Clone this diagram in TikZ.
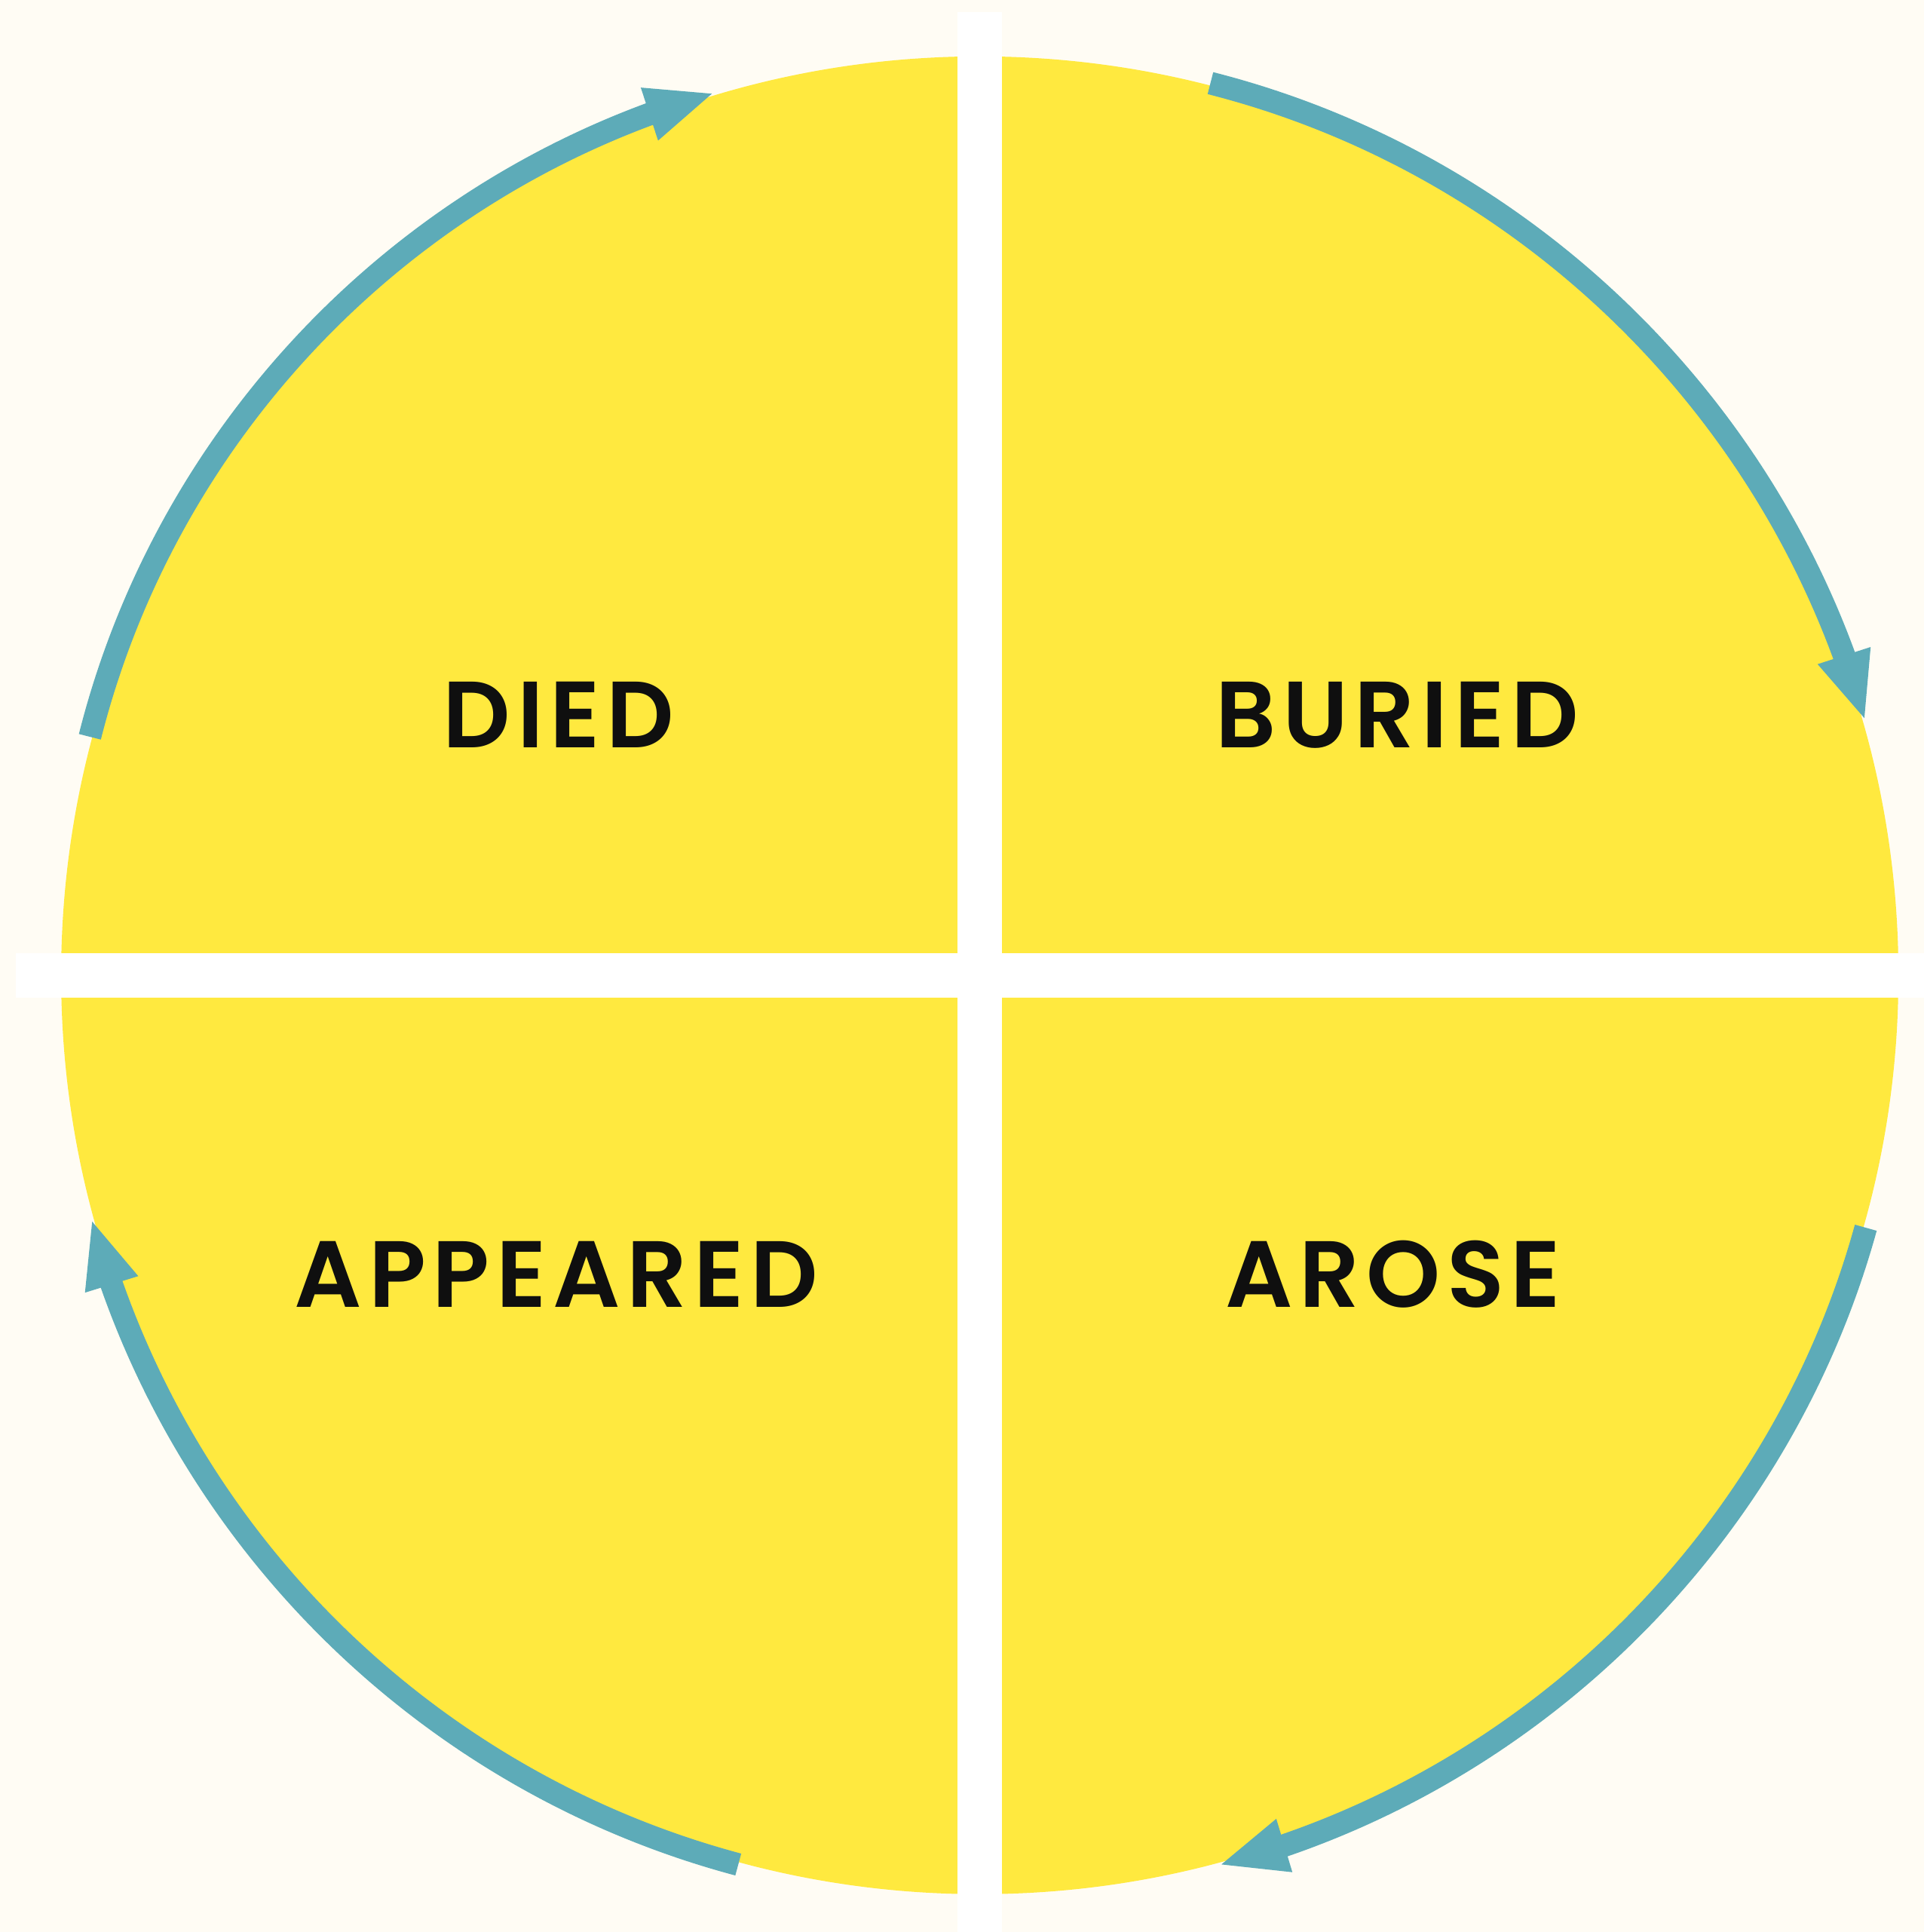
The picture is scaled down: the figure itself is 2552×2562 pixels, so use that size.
\documentclass[tikz,border=0pt]{standalone}
\usepackage{fontspec}
\newfontfamily\lblfont{Poppins SemiBold}[LetterSpace=7]
\usetikzlibrary{arrows.meta, bending}
\definecolor{bgcream}{HTML}{FFFCF4}
\definecolor{sunyellow}{HTML}{FFE93F}
\definecolor{cycteal}{HTML}{5DABB8}
\definecolor{inkblack}{HTML}{0F0F0F}

\begin{document}
\begin{tikzpicture}[
  x=0.01cm, y=0.01cm,
  lbl/.style={text=inkblack, inner sep=0pt, anchor=base, font=\lblfont\fontsize{35.5pt}{40pt}\selectfont},
  cyc/.style={draw=cycteal, line width=0.30cm, -{Triangle[length=0.915cm, width=0.66cm]}, bend left=30, looseness=0.91},
  bar/.style={fill=white}
]
  \fill[bgcream] (-1299.6,-1268.7) rectangle (1252.4,1293.3);
  \fill[sunyellow] (0,0) circle[radius=1218.5];
  \fill[bar] (-29.5,-1268.7) rectangle (29.5,1277.3);
  \fill[bar] (-1278.6,-29.5) rectangle (1252.4,29.5);

  \node[lbl] (died) at (-558.6,301.6) {DIED};
  \node[lbl] (buried) at (553.4,301.6) {BURIED};
  \node[lbl] (appeared) at (-561.6,-440.2) {APPEARED};
  \node[lbl] (arose) at (548.4,-440.2) {AROSE};

  \coordinate (died-s) at (165:1222);
  \coordinate (died-e) at (106.7:1222);
  \coordinate (buried-s) at (75.5:1222);
  \coordinate (buried-e) at (16:1222);
  \coordinate (arose-s) at (-15.9:1222);
  \coordinate (arose-e) at (-75:1222);
  \coordinate (appeared-s) at (254.8:1222);
  \coordinate (appeared-e) at (195.3:1222);

  \draw[cyc] (died-s) to (died-e);
  \draw[cyc] (buried-s) to (buried-e);
  \draw[cyc] (arose-s) to (arose-e);
  \draw[cyc] (appeared-s) to (appeared-e);
\end{tikzpicture}
\end{document}
